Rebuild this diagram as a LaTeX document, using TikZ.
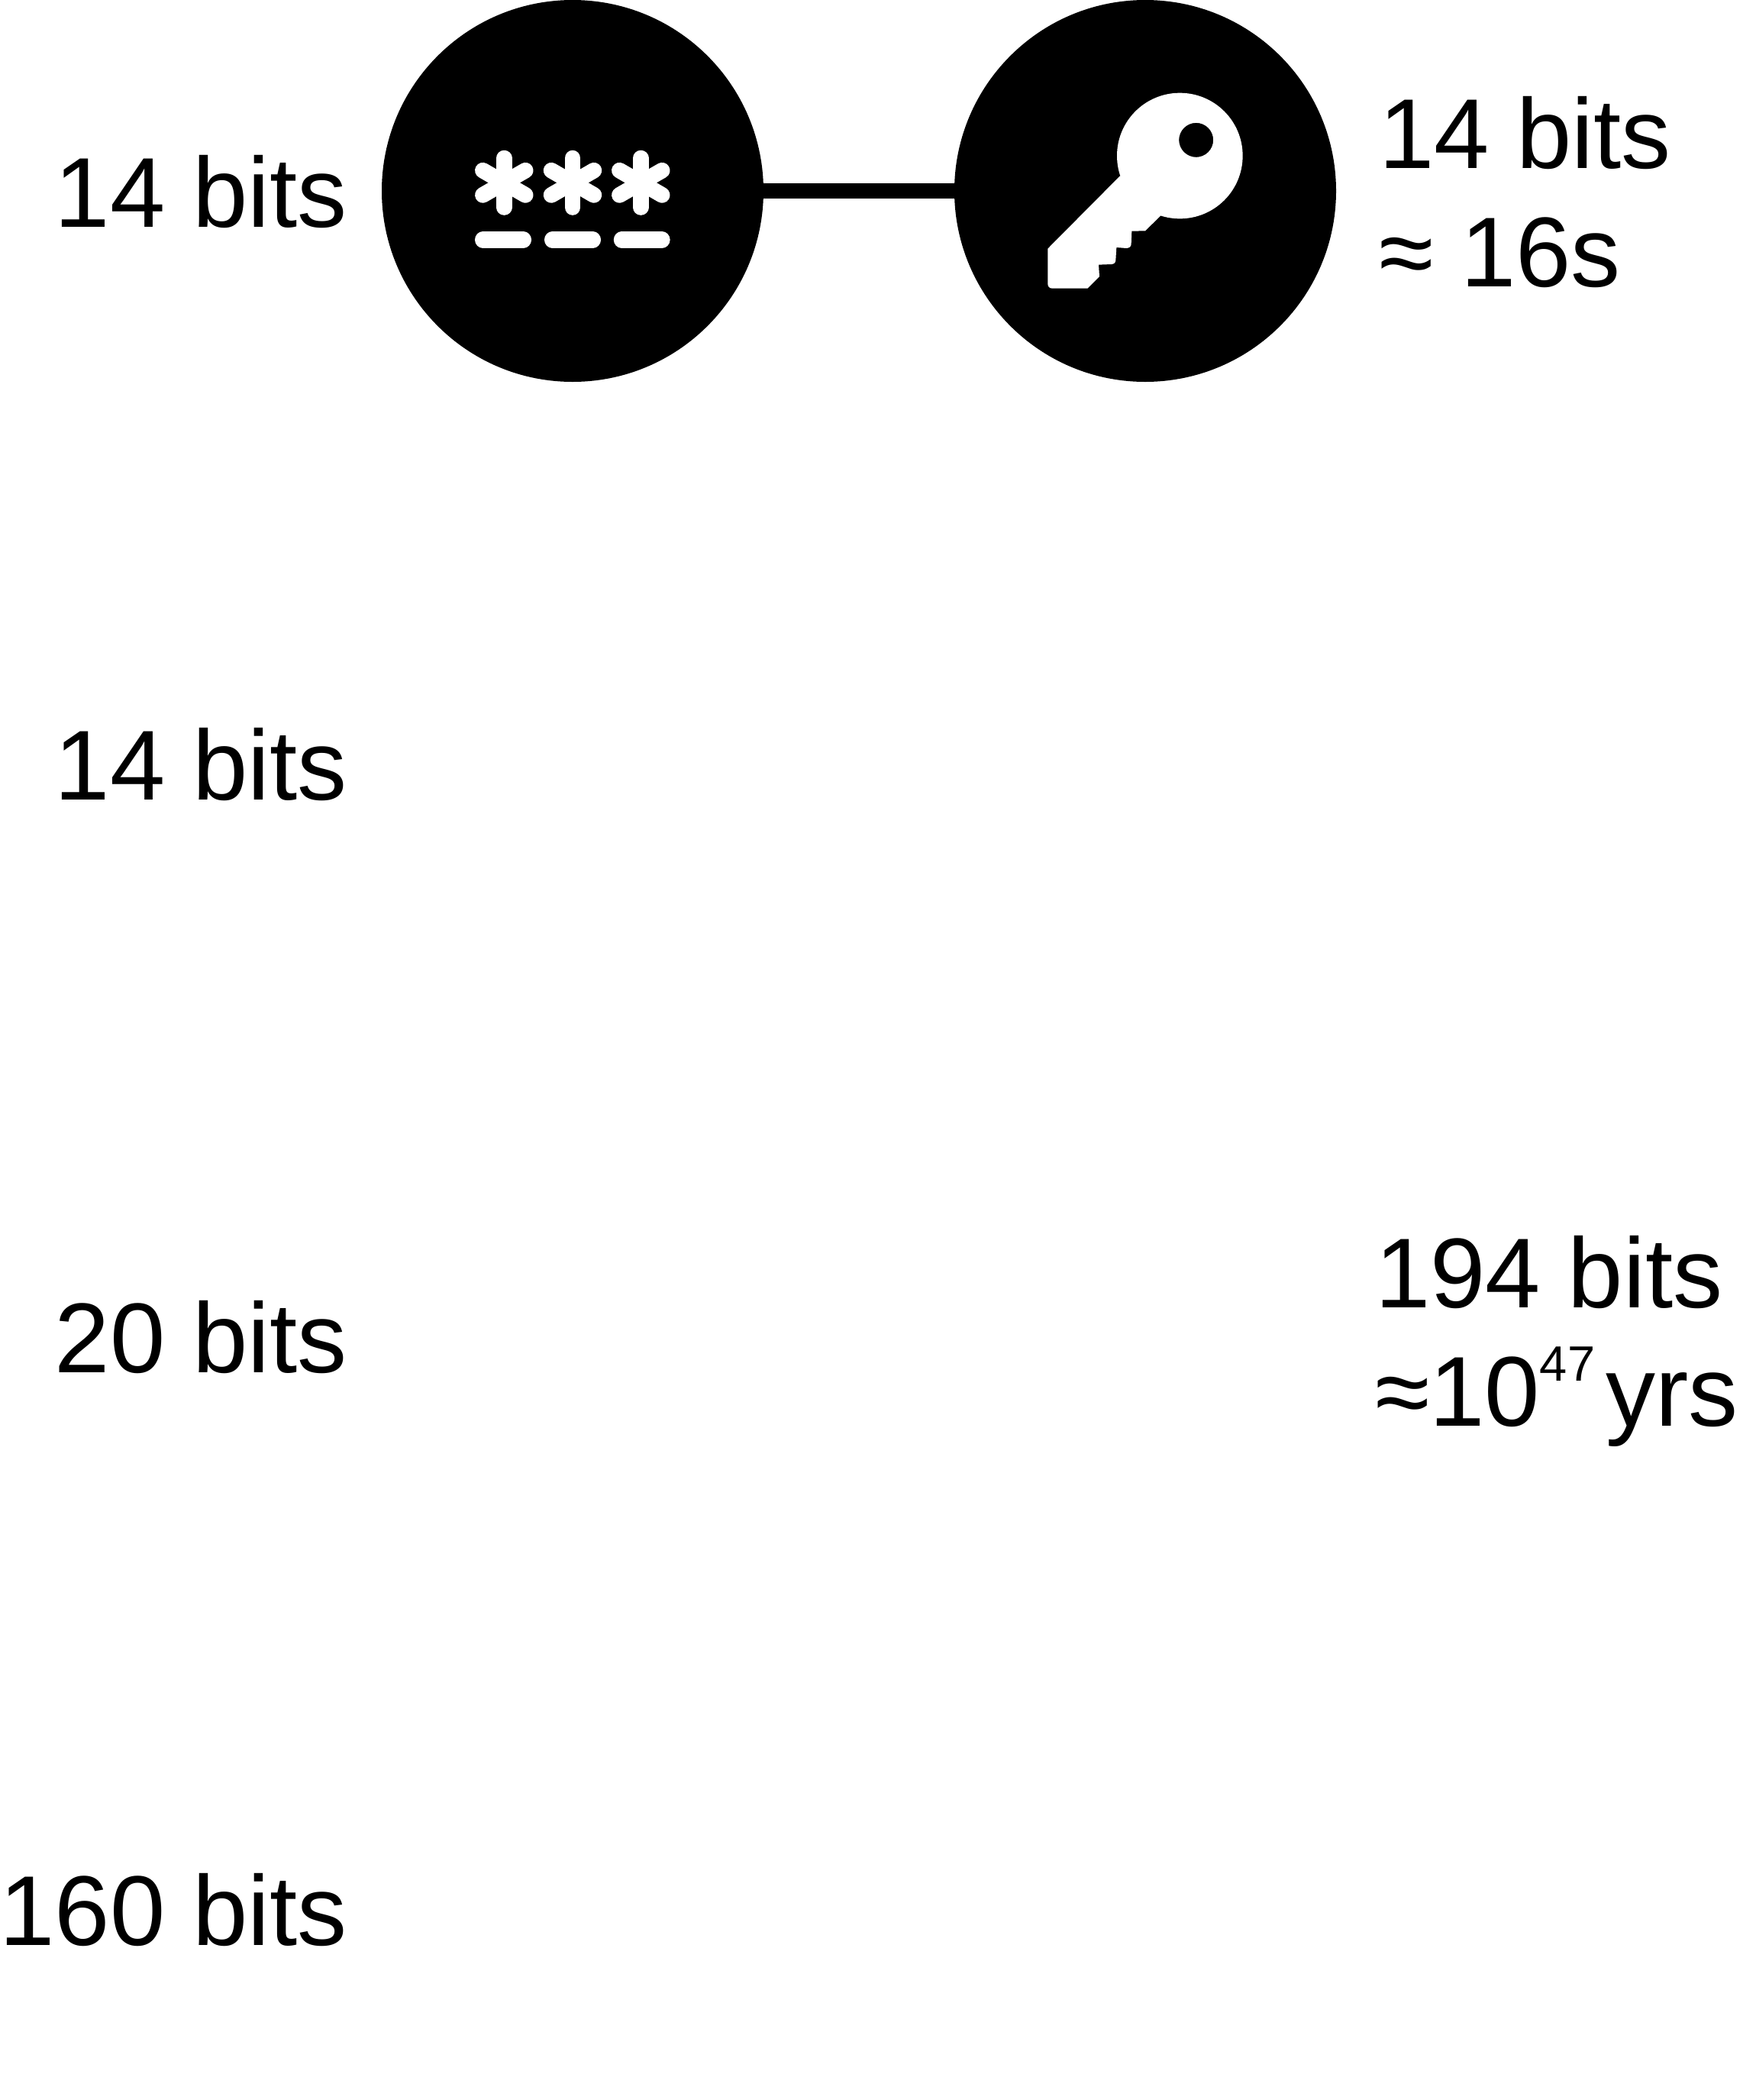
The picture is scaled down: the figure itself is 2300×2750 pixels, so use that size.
\documentclass[tikz,border=0pt]{standalone}
\usepackage{fontspec}
\setmainfont{Liberation Sans}
\tikzset{
  disc/.style={circle,fill=black,draw=none,inner sep=0pt,minimum size=500pt},
  lab/.style={inner sep=0pt,outer sep=0pt,font=\fontsize{130}{155}\selectfont,text=black},
  leftlab/.style={lab,anchor=base east},
  rightlab/.style={lab,anchor=base west,align=left},
  link/.style={draw=black,line width=20pt},
  glyph/.style={draw=white,line width=20.7pt,line cap=round},
  dashbar/.style={draw=white,line width=21.3pt,line cap=round}
}
\begin{document}
\begin{tikzpicture}[x=1pt,y=-1pt]
\useasboundingbox (0,0) rectangle (2300,2750);
\node[disc] (pw) at (750,250) {};
\node[disc] (key) at (1500,250) {};
\draw[link] (pw) -- (key);
% asterisks
\foreach \cx in {660.3,750,839.3}{
  \foreach \ang in {90,30,150}{
    \draw[glyph] (\cx,239.3) ++(\ang:32.2) -- ++(\ang+180:64.4);
  }
}
\draw[dashbar] (632.6,314) -- (685.4,314);
\draw[dashbar] (723.6,314) -- (776.4,314);
\draw[dashbar] (814.4,314) -- (867,314);
% key
\begin{scope}[shift={(1360,100)},x=.33333pt,y=-.33333pt]
\fill[white,even odd rule] (556,312) circle[radius=247] (620,250) circle[radius=67.5];
\fill[white] (320,392) -- (37,677) -- (37,815) .. controls (37,826) and (44,833) .. (55,833)
  -- (193,833) -- (240,786) -- (237,740) -- (288,738) .. controls (298,737) and (303,732) .. (304,722)
  -- (307,672) -- (345,675) .. controls (358,675) and (365,668) .. (365,658)
  -- (367,608) -- (420,607) -- (482,546) -- (520,480) -- (400,380) -- cycle;
\end{scope}
% labels
\node[leftlab] (a) at (455,297) {14 bits};
\node[leftlab] (b) at (455,1047) {14 bits};
\node[leftlab] (c) at (455,1797) {20 bits};
\node[leftlab] (d) at (455,2547) {160 bits};
\node[rightlab] (e) at (1806,375) {14 bits\\≈ 16s};
\node[rightlab] (f) at (1801,1867) {194 bits\\≈10\raisebox{59pt}{\fontsize{65}{65}\selectfont 47}\kern 14pt yrs};
\end{tikzpicture}
\end{document}
